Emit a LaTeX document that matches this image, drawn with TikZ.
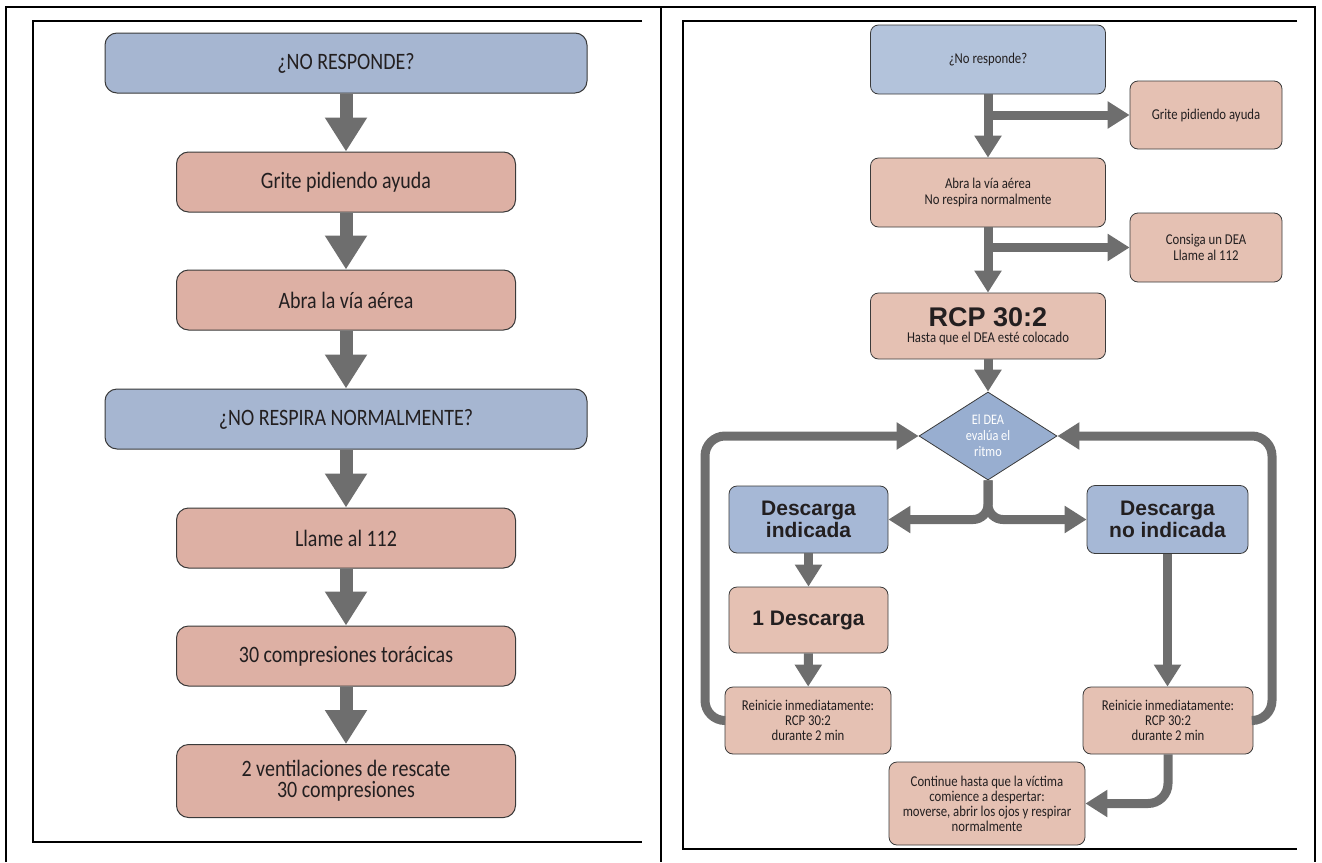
\documentclass[tikz,border=0pt]{standalone}
\usepackage{fontspec}
\setmainfont{Carlito}[FakeStretch=0.85]
\newfontfamily\headfont{Liberation Sans}
\usepackage{tikz}
\usetikzlibrary{arrows.meta,shapes.geometric}

\definecolor{leftblue}{RGB}{166,182,209}
\definecolor{leftpink}{RGB}{221,176,164}
\definecolor{rightblue}{RGB}{179,195,219}
\definecolor{rightpink}{RGB}{229,193,179}
\definecolor{shockblue}{RGB}{166,184,214}
\definecolor{deablue}{RGB}{152,174,208}
\definecolor{arrowgray}{RGB}{110,110,110}
\definecolor{boxline}{RGB}{58,58,58}
\definecolor{textgray}{RGB}{35,31,32}

\tikzset{
  lbox/.style={draw=boxline, line width=1pt, rounded corners=12pt, minimum height=60pt,
    text=textgray, font=\fontsize{23.5}{21}\selectfont, align=center},
  lq/.style={lbox, fill=leftblue, minimum width=482pt},
  la/.style={lbox, fill=leftpink, minimum width=339pt},
  rbox/.style={draw=boxline, line width=0.8pt, rounded corners=8pt, inner sep=0pt,
    text=textgray, font=\fontsize{15}{16}\selectfont, align=center},
  rq/.style={rbox, fill=rightblue},
  ra/.style={rbox, fill=rightpink},
  shockbox/.style={rbox, fill=shockblue, font=\headfont\bfseries\fontsize{21}{22}\selectfont},
  smallbox/.style={ra, font=\fontsize{15}{15}\selectfont},
  deabox/.style={diamond, draw=boxline, line width=0.8pt, fill=deablue, inner sep=0pt,
    aspect=1.57, minimum width=138pt, minimum height=88pt, text=white,
    font=\fontsize{14.5}{16}\selectfont, align=center},
  bigarr/.style={draw=arrowgray, line width=13pt, -{Triangle[width=40pt,length=34pt]}},
  arr/.style={draw=arrowgray, line width=9pt, -{Triangle[width=26pt,length=22pt]}},
  looparr/.style={arr, rounded corners=20pt}
}

\begin{document}
\begin{tikzpicture}[x=1pt,y=-1pt]
    \useasboundingbox (0,0) rectangle (1322,862);
    % frames
    \draw[line width=1.3pt] (6,862) -- (6,7) -- (1315,7) -- (1315,862);
    \draw[line width=1.3pt] (661,7) -- (661,862);
    \draw[line width=2.5pt] (642,21) -- (33,21) -- (33,842) -- (642,842);
    \draw[line width=2.5pt] (1297,21) -- (683,21) -- (683,849) -- (1297,849);

    % left chart
    \node[lq] (resp) at (346,63) {¿NO RESPONDE?};
    \node[la] (grito) at (346,182) {Grite pidiendo ayuda};
    \node[la] (via) at (346,300) {Abra la vía aérea};
    \node[lq] (respira) at (346,419) {¿NO RESPIRA NORMALMENTE?};
    \node[la] (llame) at (346,538) {Llame al 112};
    \node[la] (comp) at (346,656) {30 compresiones torácicas};
    \node[la, minimum height=73pt] (vent) at (346,781) {2 ventilaciones de rescate\\30 compresiones};
    \foreach \a/\b in {resp/grito,grito/via,via/respira,respira/llame,llame/comp,comp/vent}
        \draw[bigarr] (\a) -- (\b);

    % right chart
    \node[rq, minimum width=235pt, minimum height=69pt] (noresp) at (988,59.5) {¿No responde?};
    \node[ra, minimum width=152pt, minimum height=68pt] (grite) at (1206,115) {Grite pidiendo ayuda};
    \node[ra, minimum width=235pt, minimum height=69pt] (abra) at (988,192.5) {Abra la vía aérea\\No respira normalmente};
    \node[ra, minimum width=152pt, minimum height=69pt] (consiga) at (1206,247.5) {Consiga un DEA\\Llame al 112};
    \node[ra, minimum width=235pt, minimum height=66pt] (rcp) at (988,326)
        {{\headfont\bfseries\fontsize{27}{29}\selectfont RCP 30:2}\\Hasta que el DEA esté colocado};
    \node[deabox] (dea) at (988,436) {El DEA\\evalúa el\\ritmo};
    \node[shockbox, minimum width=159pt, minimum height=67pt] (shock) at (808.5,519.5) {Descarga\\indicada};
    \node[shockbox, minimum width=161pt, minimum height=68pt] (noshock) at (1167.5,519.5) {Descarga\\no indicada};
    \node[ra, minimum width=159pt, minimum height=66pt, font=\headfont\bfseries\fontsize{21}{22}\selectfont] (desc) at (808.5,620) {1 Descarga};
    \node[smallbox, minimum width=166pt, minimum height=67pt] (reini) at (808,720.5) {Reinicie inmediatamente:\\RCP 30:2\\durante 2 min};
    \node[smallbox, minimum width=170pt, minimum height=67pt] (reinidos) at (1168,720.5) {Reinicie inmediatamente:\\RCP 30:2\\durante 2 min};
    \node[smallbox, minimum width=196pt, minimum height=83pt] (sigue) at (987,803.5)
        {Continue hasta que la víctima\\comience a despertar:\\moverse, abrir los ojos y respirar\\normalmente};
    \coordinate (lp) at (705,436);
    \coordinate (rp) at (1272,436);

    \draw[arr] (noresp) -- (abra);
    \draw[arr] (noresp.south |- grite.west) -- (grite.west);
    \draw[arr] (abra) -- (rcp);
    \draw[arr] (abra.south |- consiga.west) -- (consiga.west);
    \draw[arr] (rcp) -- (dea);
    \draw[arr, rounded corners=15pt] (dea.south) |- (shock.east);
    \draw[arr, rounded corners=15pt] (dea.south) |- (noshock.west);
    \draw[arr] (shock) -- (desc);
    \draw[arr] (desc) -- (reini);
    \draw[arr] (noshock.south) -- (noshock.south |- reinidos.north);
    \draw[looparr] (reini.west) -| (lp) -- (dea.west);
    \draw[looparr] (reinidos.east) -| (rp) -- (dea.east);
    \draw[looparr] (reinidos.south) |- (sigue.east);
\end{tikzpicture}
\end{document}
